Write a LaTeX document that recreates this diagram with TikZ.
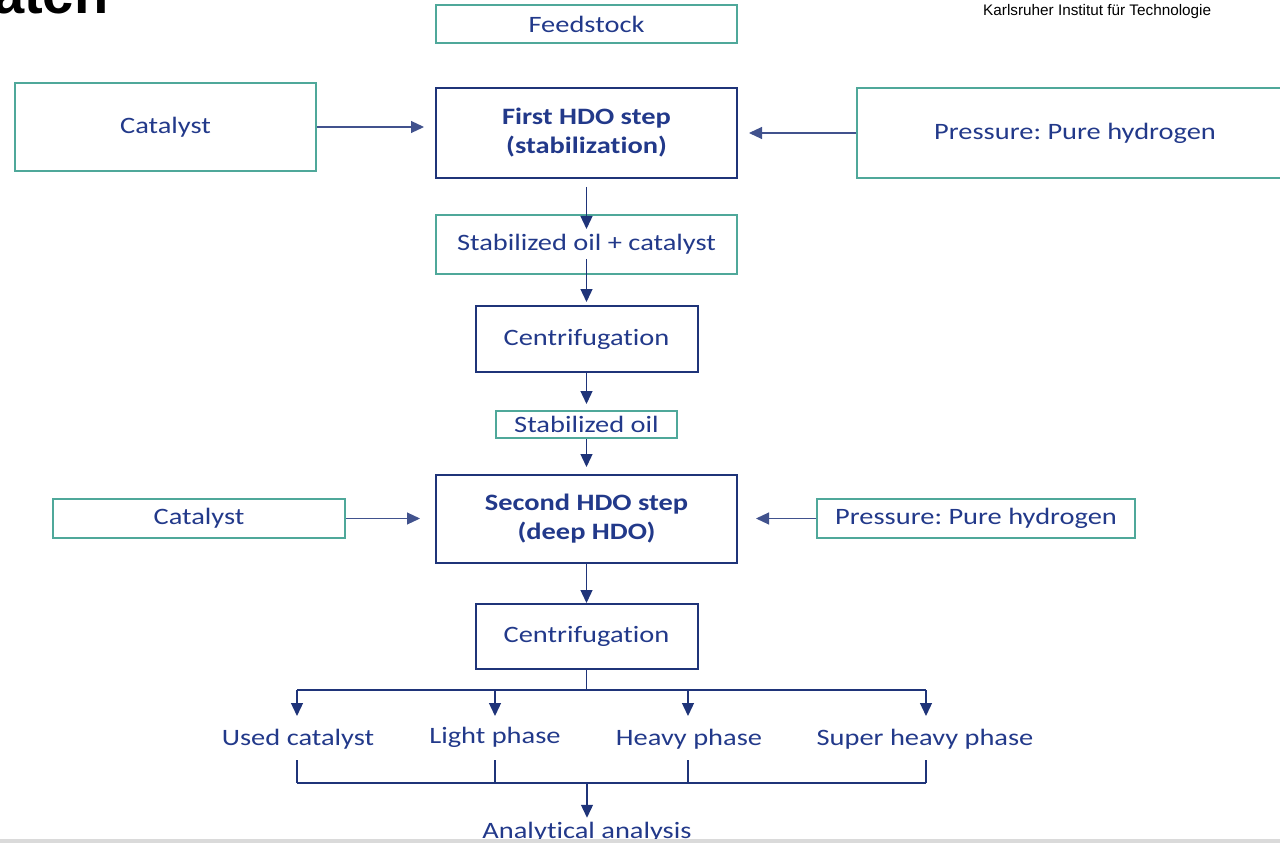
\documentclass[tikz,border=0pt]{standalone}
\usepackage{fontspec}
\setmainfont{Carlito}[FakeStretch=1.21, Ligatures={NoCommon}]
\newfontfamily\titlefont{Liberation Sans}
\newfontfamily\kitfont{Liberation Sans}
\usetikzlibrary{arrows.meta}
\definecolor{navy}{HTML}{1F3479}
\definecolor{teal}{HTML}{4FA89A}
\definecolor{txtblue}{HTML}{22398A}
\definecolor{linegray}{HTML}{DADADA}
\frenchspacing
\begin{document}
\begin{tikzpicture}[x=1pt,y=-1pt,
  every node/.style={font=\fontsize{23.5}{29}\selectfont, text=txtblue},
  tealbox/.style={draw=teal, line width=2pt, inner sep=0pt, align=center},
  navybox/.style={draw=navy, line width=2pt, inner sep=0pt, align=center},
  lbl/.style={inner sep=0pt},
  arr/.style={draw=navy, line width=1.3pt, -{Triangle[length=13pt,width=12pt]}},
  harr/.style={draw=navy!85, line width=1.1pt, -{Triangle[length=13pt,width=12pt]}},
  ln/.style={draw=navy, line width=1.1pt}]
\useasboundingbox (0,0) rectangle (1280,845);
% header fragments
\node[anchor=base west, inner sep=0pt, text=black, font=\titlefont\bfseries\fontsize{56}{60}\selectfont] (title) at (-7,14) {atch};
\node[anchor=base west, inner sep=0pt, text=black, font=\kitfont\fontsize{15.3}{18}\selectfont] (kit) at (983,16) {Karlsruher Institut für Technologie};
% boxes
\node[tealbox, minimum width=301pt, minimum height=38pt] (feed) at (586.5,24) {Feedstock};
\node[tealbox, minimum width=301pt, minimum height=88pt] (cat1) at (165.5,127) {Catalyst};
\node[navybox, minimum width=301pt, minimum height=90pt, font=\bfseries\fontsize{23.5}{29}\selectfont] (hdo1) at (586.5,133) {First HDO step\\(stabilization)};
\node[tealbox, minimum width=436pt, minimum height=90pt] (pres1) at (1075,133) {Pressure: Pure hydrogen};
\node[tealbox, minimum width=301pt, minimum height=59pt] (stabcat) at (586.5,244.5) {Stabilized oil + catalyst};
\node[navybox, minimum width=222pt, minimum height=66pt] (cen1) at (586.5,339) {Centrifugation};
\node[tealbox, minimum width=181pt, minimum height=27pt] (stab) at (586.5,424.5) {Stabilized oil};
\node[navybox, minimum width=301pt, minimum height=88pt, font=\bfseries\fontsize{23.5}{29}\selectfont] (hdo2) at (586.5,519) {Second HDO step\\(deep HDO)};
\node[tealbox, minimum width=292pt, minimum height=39pt] (cat2) at (199,518.5) {Catalyst};
\node[tealbox, minimum width=318pt, minimum height=39pt] (pres2) at (976,518.5) {Pressure: Pure hydrogen};
\node[navybox, minimum width=222pt, minimum height=65pt] (cen2) at (586.5,636.5) {Centrifugation};
% outputs
\node[lbl] (uc) at (298,739) {Used catalyst};
\node[lbl] (lp) at (495,737) {Light phase};
\node[lbl] (hp) at (689,739) {Heavy phase};
\node[lbl] (shp) at (925,739) {Super heavy phase};
\node[lbl] (ana) at (587,832) {Analytical analysis};
% helper coordinates
\coordinate (br) at (586.5,690);
\coordinate (b1) at (297,690);
\coordinate (b2) at (495,690);
\coordinate (b3) at (688,690);
\coordinate (b4) at (926,690);
\coordinate (t1) at (297,716);
\coordinate (t2) at (495,716);
\coordinate (t3) at (688,716);
\coordinate (t4) at (926,716);
\coordinate (c1) at (297,760);
\coordinate (c2) at (495,760);
\coordinate (c3) at (688,760);
\coordinate (c4) at (926,760);
\coordinate (d1) at (297,783);
\coordinate (d2) at (495,783);
\coordinate (d3) at (688,783);
\coordinate (d4) at (926,783);
\coordinate (dm) at (587,783);
% connectors
\draw[harr] (cat1.east) -- ([xshift=-11pt]cat1.east -| hdo1.west);
\draw[harr] (pres1.west) -- ([xshift=11pt]pres1.west -| hdo1.east);
\draw[harr] (cat2.east) -- ([xshift=-15pt]cat2.east -| hdo2.west);
\draw[harr] (pres2.west) -- ([xshift=18pt]pres2.west -| hdo2.east);
\draw[arr] ([yshift=-8pt]hdo1.south) -- ([yshift=-15pt]stabcat.north);
\draw[arr] ([yshift=16pt]stabcat.south) -- ([yshift=3pt]cen1.north);
\draw[arr] (cen1.south) -- ([yshift=6pt]stab.north);
\draw[arr] (stab.south) -- ([yshift=7pt]hdo2.north);
\draw[arr] (hdo2.south) -- (cen2.north);
\draw[ln] (cen2.south) -- (br);
\draw[ln] (b1) -- (b4);
\draw[arr] (b1) -- (t1);
\draw[arr] (b2) -- (t2);
\draw[arr] (b3) -- (t3);
\draw[arr] (b4) -- (t4);
\draw[ln] (c1) -- (d1);
\draw[ln] (c2) -- (d2);
\draw[ln] (c3) -- (d3);
\draw[ln] (c4) -- (d4);
\draw[ln] (d1) -- (d4);
\draw[arr] (dm) -- ([yshift=4pt]ana.north);
% bottom rule
\draw[linegray, line width=4pt] (0,841) -- (1280,841);
\end{tikzpicture}
\end{document}
